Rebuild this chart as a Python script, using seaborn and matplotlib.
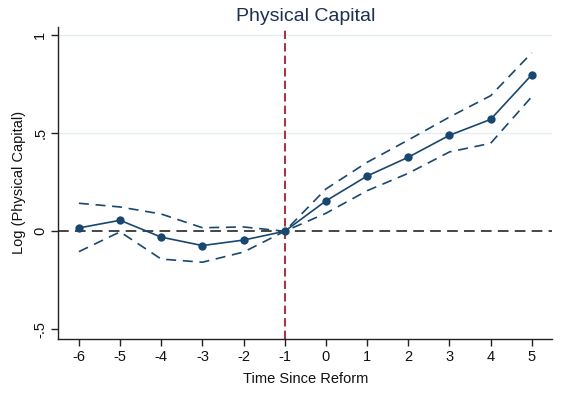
import pandas as pd
import matplotlib
matplotlib.use("Agg")
import matplotlib.pyplot as plt
import seaborn as sns

# event time and estimates
periods = [-6, -5, -4, -3, -2, -1, 0, 1, 2, 3, 4, 5]
coef = [0.017, 0.056, -0.030, -0.073, -0.045, 0.0, 0.155, 0.282, 0.378, 0.490, 0.571, 0.799]
ci_upper = [0.143, 0.124, 0.088, 0.018, 0.022, 0.0, 0.216, 0.352, 0.466, 0.583, 0.692, 0.911]
ci_lower = [-0.104, -0.003, -0.142, -0.158, -0.106, 0.0, 0.092, 0.207, 0.296, 0.405, 0.449, 0.687]

y_ticks = [-0.5, 0, 0.5, 1]
y_ticklabels = ["-.5", "0", ".5", "1"]
grid_vals = [0.5, 1]

navy = "#1a476f"


def plot():
    sns.set_theme(style="white")
    plt.rcParams["font.family"] = ["Liberation Sans", "DejaVu Sans"]

    df = pd.DataFrame({"t": periods, "b": coef, "hi": ci_upper, "lo": ci_lower})

    fig = plt.figure(figsize=(5.64, 3.93), dpi=100)
    ax = fig.add_axes([0.1034, 0.1374, 0.876, 0.795])

    for g in grid_vals:
        ax.axhline(g, color="#e4eef2", lw=1.0, zorder=0)

    ax.axhline(0, color="#454545", lw=1.4, ls=(0, (5.5, 3.2)), zorder=1)
    ax.axvline(-1, color="#a23a45", lw=1.5, ls=(0, (4, 2)), zorder=1)

    sns.lineplot(data=df, x="t", y="hi", ax=ax, color=navy, lw=1.2,
                 linestyle=(0, (6, 4)), zorder=2)
    sns.lineplot(data=df, x="t", y="lo", ax=ax, color=navy, lw=1.2,
                 linestyle=(0, (6, 4)), zorder=2)
    sns.lineplot(data=df, x="t", y="b", ax=ax, color=navy, lw=1.2,
                 marker="o", markersize=6, markeredgewidth=0, zorder=3)

    ax.set_xlim(-6.5, 5.5)
    ax.set_ylim(-0.55, 1.045)
    ax.set_xticks(periods)
    ax.set_xticklabels([str(p) for p in periods], fontsize=10.5)
    ax.set_yticks(y_ticks)
    ax.set_yticklabels(y_ticklabels, fontsize=10.5, rotation=90, va="center")

    for side in ["top", "right"]:
        ax.spines[side].set_visible(False)
    for side in ["left", "bottom"]:
        ax.spines[side].set_color("#222222")
        ax.spines[side].set_linewidth(1.0)
    ax.tick_params(axis="both", direction="out", length=5, width=1.0,
                   color="#222222", labelcolor="#111111", pad=3, bottom=True, left=True)

    ax.set_title("Physical Capital", fontsize=14, color="#1e2f52", pad=4)
    ax.set_xlabel("Time Since Reform", fontsize=10.5, color="#111111", labelpad=6)
    ax.set_ylabel("Log (Physical Capital)", fontsize=10.5, color="#111111", labelpad=5)

    fig.savefig("out.png", dpi=100)
    plt.close(fig)


if __name__ == "__main__":
    plot()
